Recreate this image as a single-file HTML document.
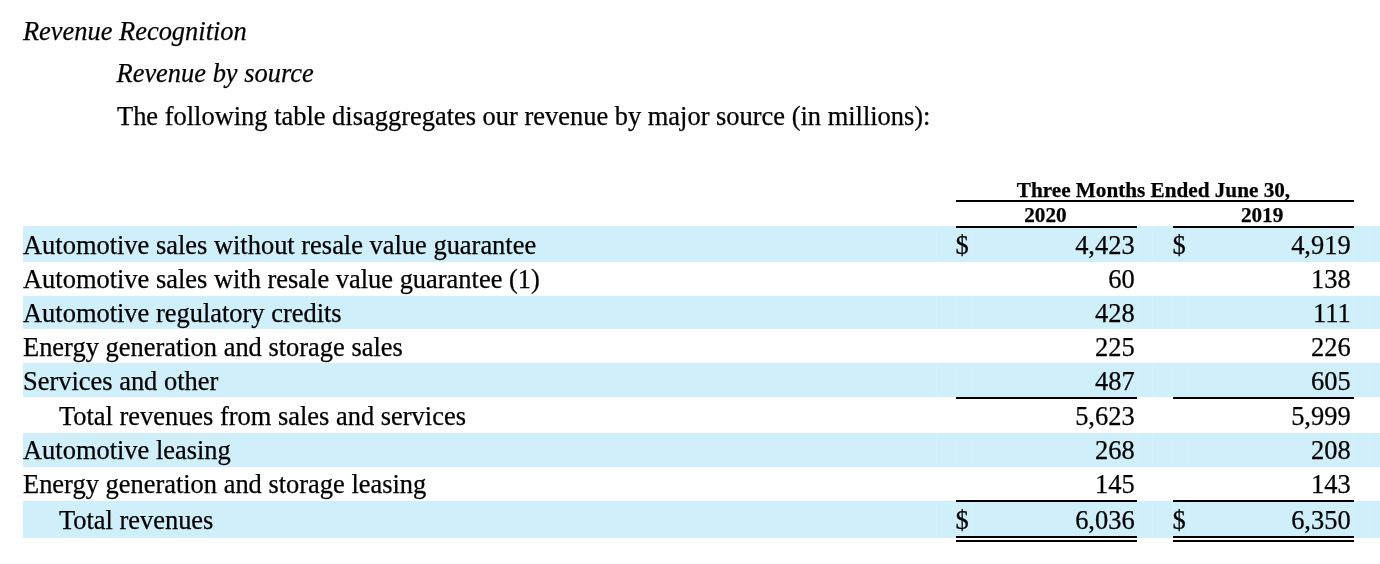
<!DOCTYPE html>
<html><head><meta charset="utf-8"><style>
html,body{-webkit-font-smoothing:antialiased;margin:0;padding:0;background:#fff;width:1380px;height:564px;overflow:hidden;position:relative}
.t{position:absolute;transform:translateZ(0);-webkit-text-stroke:0.25px #000;white-space:nowrap;color:#000;font-family:"Liberation Serif",serif;font-size:26.45px;line-height:30px}
.i{font-style:italic}
.bh{font-weight:bold;font-size:21.2px;line-height:24px}
.b{position:absolute}
</style></head><body>
<div class="b" style="left:23px;top:226px;width:1357px;height:36px;background:#cfeffb"></div>
<div class="b" style="left:23px;top:296px;width:1357px;height:33px;background:#cfeffb"></div>
<div class="b" style="left:23px;top:363px;width:1357px;height:34px;background:#cfeffb"></div>
<div class="b" style="left:23px;top:433px;width:1357px;height:33.5px;background:#cfeffb"></div>
<div class="b" style="left:23px;top:500.5px;width:1357px;height:37.0px;background:#cfeffb"></div>
<div class="b" style="left:936px;top:226px;width:1px;height:36px;background:rgba(255,255,255,0.15)"></div>
<div class="b" style="left:956px;top:226px;width:1px;height:36px;background:rgba(255,255,255,0.15)"></div>
<div class="b" style="left:972px;top:226px;width:1px;height:36px;background:rgba(255,255,255,0.15)"></div>
<div class="b" style="left:1137px;top:226px;width:1px;height:36px;background:rgba(255,255,255,0.15)"></div>
<div class="b" style="left:1152px;top:226px;width:1px;height:36px;background:rgba(255,255,255,0.15)"></div>
<div class="b" style="left:1172px;top:226px;width:1px;height:36px;background:rgba(255,255,255,0.15)"></div>
<div class="b" style="left:1188px;top:226px;width:1px;height:36px;background:rgba(255,255,255,0.15)"></div>
<div class="b" style="left:1353px;top:226px;width:1px;height:36px;background:rgba(255,255,255,0.15)"></div>
<div class="b" style="left:1369px;top:226px;width:1px;height:36px;background:rgba(255,255,255,0.15)"></div>
<div class="b" style="left:936px;top:296px;width:1px;height:33px;background:rgba(255,255,255,0.15)"></div>
<div class="b" style="left:956px;top:296px;width:1px;height:33px;background:rgba(255,255,255,0.15)"></div>
<div class="b" style="left:972px;top:296px;width:1px;height:33px;background:rgba(255,255,255,0.15)"></div>
<div class="b" style="left:1137px;top:296px;width:1px;height:33px;background:rgba(255,255,255,0.15)"></div>
<div class="b" style="left:1152px;top:296px;width:1px;height:33px;background:rgba(255,255,255,0.15)"></div>
<div class="b" style="left:1172px;top:296px;width:1px;height:33px;background:rgba(255,255,255,0.15)"></div>
<div class="b" style="left:1188px;top:296px;width:1px;height:33px;background:rgba(255,255,255,0.15)"></div>
<div class="b" style="left:1353px;top:296px;width:1px;height:33px;background:rgba(255,255,255,0.15)"></div>
<div class="b" style="left:1369px;top:296px;width:1px;height:33px;background:rgba(255,255,255,0.15)"></div>
<div class="b" style="left:936px;top:363px;width:1px;height:34px;background:rgba(255,255,255,0.15)"></div>
<div class="b" style="left:956px;top:363px;width:1px;height:34px;background:rgba(255,255,255,0.15)"></div>
<div class="b" style="left:972px;top:363px;width:1px;height:34px;background:rgba(255,255,255,0.15)"></div>
<div class="b" style="left:1137px;top:363px;width:1px;height:34px;background:rgba(255,255,255,0.15)"></div>
<div class="b" style="left:1152px;top:363px;width:1px;height:34px;background:rgba(255,255,255,0.15)"></div>
<div class="b" style="left:1172px;top:363px;width:1px;height:34px;background:rgba(255,255,255,0.15)"></div>
<div class="b" style="left:1188px;top:363px;width:1px;height:34px;background:rgba(255,255,255,0.15)"></div>
<div class="b" style="left:1353px;top:363px;width:1px;height:34px;background:rgba(255,255,255,0.15)"></div>
<div class="b" style="left:1369px;top:363px;width:1px;height:34px;background:rgba(255,255,255,0.15)"></div>
<div class="b" style="left:936px;top:433px;width:1px;height:33.5px;background:rgba(255,255,255,0.15)"></div>
<div class="b" style="left:956px;top:433px;width:1px;height:33.5px;background:rgba(255,255,255,0.15)"></div>
<div class="b" style="left:972px;top:433px;width:1px;height:33.5px;background:rgba(255,255,255,0.15)"></div>
<div class="b" style="left:1137px;top:433px;width:1px;height:33.5px;background:rgba(255,255,255,0.15)"></div>
<div class="b" style="left:1152px;top:433px;width:1px;height:33.5px;background:rgba(255,255,255,0.15)"></div>
<div class="b" style="left:1172px;top:433px;width:1px;height:33.5px;background:rgba(255,255,255,0.15)"></div>
<div class="b" style="left:1188px;top:433px;width:1px;height:33.5px;background:rgba(255,255,255,0.15)"></div>
<div class="b" style="left:1353px;top:433px;width:1px;height:33.5px;background:rgba(255,255,255,0.15)"></div>
<div class="b" style="left:1369px;top:433px;width:1px;height:33.5px;background:rgba(255,255,255,0.15)"></div>
<div class="b" style="left:936px;top:500.5px;width:1px;height:37.0px;background:rgba(255,255,255,0.15)"></div>
<div class="b" style="left:956px;top:500.5px;width:1px;height:37.0px;background:rgba(255,255,255,0.15)"></div>
<div class="b" style="left:972px;top:500.5px;width:1px;height:37.0px;background:rgba(255,255,255,0.15)"></div>
<div class="b" style="left:1137px;top:500.5px;width:1px;height:37.0px;background:rgba(255,255,255,0.15)"></div>
<div class="b" style="left:1152px;top:500.5px;width:1px;height:37.0px;background:rgba(255,255,255,0.15)"></div>
<div class="b" style="left:1172px;top:500.5px;width:1px;height:37.0px;background:rgba(255,255,255,0.15)"></div>
<div class="b" style="left:1188px;top:500.5px;width:1px;height:37.0px;background:rgba(255,255,255,0.15)"></div>
<div class="b" style="left:1353px;top:500.5px;width:1px;height:37.0px;background:rgba(255,255,255,0.15)"></div>
<div class="b" style="left:1369px;top:500.5px;width:1px;height:37.0px;background:rgba(255,255,255,0.15)"></div>
<div class="t i" style="left:22.90px;top:16.18px">Revenue Recognition</div>
<div class="t i" style="left:116.50px;top:58.08px">Revenue by source</div>
<div class="t r" style="left:117.00px;top:101.28px">The following table disaggregates our revenue by major source (in millions):</div>
<div class="t bh" style="left:1016.80px;top:177.65px">Three Months Ended June 30,</div>
<div class="t bh" style="left:1024.20px;top:203.45px">2020</div>
<div class="t bh" style="left:1240.90px;top:203.45px">2019</div>
<div class="b" style="left:956px;top:200px;width:398px;height:2px;background:#000"></div>
<div class="b" style="left:956px;top:226px;width:181px;height:2px;background:#000"></div>
<div class="b" style="left:1173px;top:226px;width:181px;height:2px;background:#000"></div>
<div class="t r" style="left:23.00px;top:230.28px">Automotive sales without resale value guarantee</div>
<div class="t r" style="right:245.40px;top:230.28px;text-align:right">4,423</div>
<div class="t r" style="right:29.40px;top:230.28px;text-align:right">4,919</div>
<div class="t r" style="left:955.50px;top:230.28px">$</div>
<div class="t r" style="left:1172.60px;top:230.28px">$</div>
<div class="t r" style="left:23.00px;top:264.28px">Automotive sales with resale value guarantee (1)</div>
<div class="t r" style="right:245.40px;top:264.28px;text-align:right">60</div>
<div class="t r" style="right:29.40px;top:264.28px;text-align:right">138</div>
<div class="t r" style="left:23.00px;top:298.28px">Automotive regulatory credits</div>
<div class="t r" style="right:245.40px;top:298.28px;text-align:right">428</div>
<div class="t r" style="right:29.40px;top:298.28px;text-align:right">111</div>
<div class="t r" style="left:23.00px;top:332.28px">Energy generation and storage sales</div>
<div class="t r" style="right:245.40px;top:332.28px;text-align:right">225</div>
<div class="t r" style="right:29.40px;top:332.28px;text-align:right">226</div>
<div class="t r" style="left:23.00px;top:366.28px">Services and other</div>
<div class="t r" style="right:245.40px;top:366.28px;text-align:right">487</div>
<div class="t r" style="right:29.40px;top:366.28px;text-align:right">605</div>
<div class="t r" style="left:58.90px;top:401.28px">Total revenues from sales and services</div>
<div class="t r" style="right:245.40px;top:401.28px;text-align:right">5,623</div>
<div class="t r" style="right:29.40px;top:401.28px;text-align:right">5,999</div>
<div class="t r" style="left:23.00px;top:435.28px">Automotive leasing</div>
<div class="t r" style="right:245.40px;top:435.28px;text-align:right">268</div>
<div class="t r" style="right:29.40px;top:435.28px;text-align:right">208</div>
<div class="t r" style="left:23.00px;top:469.28px">Energy generation and storage leasing</div>
<div class="t r" style="right:245.40px;top:469.28px;text-align:right">145</div>
<div class="t r" style="right:29.40px;top:469.28px;text-align:right">143</div>
<div class="t r" style="left:58.90px;top:505.28px">Total revenues</div>
<div class="t r" style="right:245.40px;top:505.28px;text-align:right">6,036</div>
<div class="t r" style="right:29.40px;top:505.28px;text-align:right">6,350</div>
<div class="t r" style="left:955.50px;top:505.28px">$</div>
<div class="t r" style="left:1172.60px;top:505.28px">$</div>
<div class="b" style="left:956px;top:397px;width:181px;height:2px;background:#000"></div>
<div class="b" style="left:1173px;top:397px;width:181px;height:2px;background:#000"></div>
<div class="b" style="left:956px;top:500px;width:181px;height:2px;background:#000"></div>
<div class="b" style="left:1173px;top:500px;width:181px;height:2px;background:#000"></div>
<div class="b" style="left:956px;top:536px;width:181px;height:2px;background:#000"></div>
<div class="b" style="left:1173px;top:536px;width:181px;height:2px;background:#000"></div>
<div class="b" style="left:956px;top:540px;width:181px;height:2px;background:#000"></div>
<div class="b" style="left:1173px;top:540px;width:181px;height:2px;background:#000"></div>
</body></html>
